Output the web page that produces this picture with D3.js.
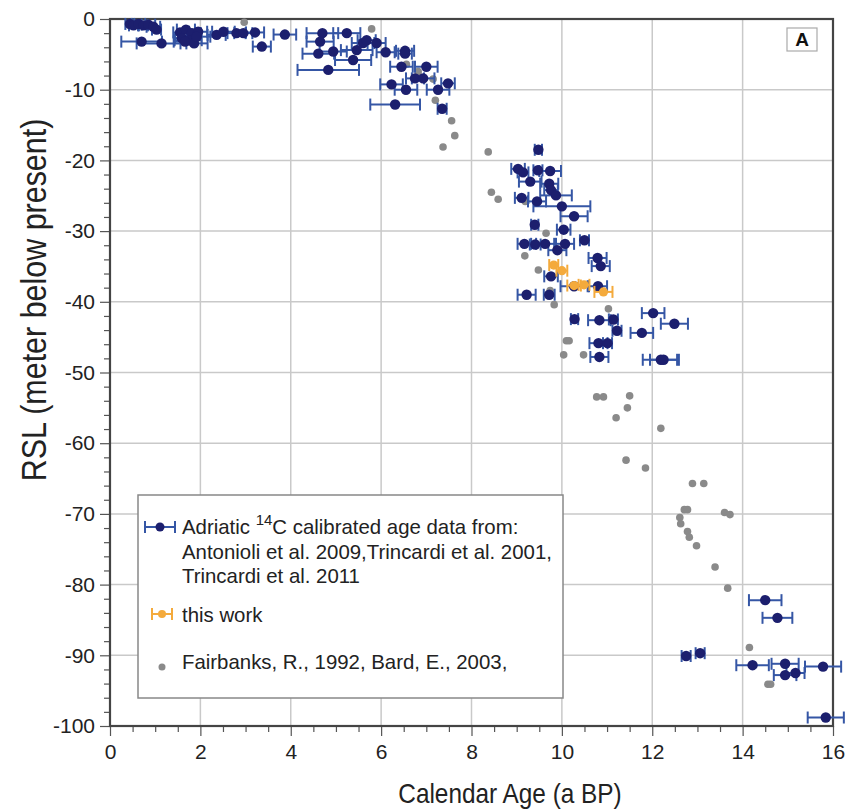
<!DOCTYPE html>
<html><head><meta charset="utf-8">
<script src="https://cdn.jsdelivr.net/npm/d3@7"></script>
<style>html,body{margin:0;padding:0;background:#fff;}svg{display:block;font-family:"Liberation Sans",Arial,Helvetica,sans-serif;}</style>
</head><body>
<svg id="chart" width="849" height="809"></svg>
<script>
// Adriatic 14C calibrated data: age (ka BP), RSL (m), age error (half width)
const adriaticAge = [0.44,0.52,0.63,0.74,0.85,0.96,1.03,0.70,1.14,1.55,1.68,1.81,1.95,1.59,1.73,1.86,1.92,1.66,2.36,2.51,2.8,2.95,3.21,3.36,3.87,4.7,5.24,4.65,4.61,4.94,5.38,5.46,5.6,5.68,5.9,4.83,6.1,6.53,6.53,6.45,6.75,7.0,6.93,6.23,6.55,7.26,7.48,6.31,7.35,
  9.48,9.03,9.14,9.47,9.74,9.30,9.72,9.76,9.87,9.11,9.45,10.0,10.27,9.40,10.04,9.17,9.41,9.63,10.07,10.5,9.9,10.79,10.86,9.76,10.27,10.80,9.22,9.72,10.28,10.83,11.14,11.22,12.02,12.49,11.77,10.81,11.01,10.83,12.19,12.25,
  14.5,14.77,12.75,13.06,14.22,14.94,14.94,15.17,15.78,15.84];
const adriaticRSL = [-0.7,-0.9,-0.7,-0.9,-0.8,-1.1,-1.5,-3.2,-3.45,-1.9,-1.5,-2.0,-1.8,-2.7,-3.0,-3.45,-2.5,-3.2,-2.25,-1.8,-2.0,-2.0,-1.9,-3.9,-2.2,-2.0,-2.0,-3.2,-4.9,-4.6,-5.8,-4.4,-3.4,-3.0,-3.4,-7.2,-4.7,-4.5,-4.9,-6.75,-8.4,-6.75,-8.4,-9.25,-10.0,-10.0,-9.1,-12.1,-12.7,
  -18.5,-21.2,-21.7,-21.4,-21.5,-23.0,-23.3,-24.2,-24.95,-25.3,-25.8,-26.5,-27.9,-29.1,-29.8,-31.8,-31.9,-31.8,-31.8,-31.3,-32.7,-33.8,-34.95,-36.4,-37.8,-37.8,-39.0,-39.0,-42.45,-42.6,-42.5,-44.1,-41.6,-43.1,-44.4,-45.85,-45.85,-47.8,-48.2,-48.2,
  -82.2,-84.7,-90.1,-89.7,-91.4,-91.2,-92.8,-92.5,-91.6,-98.8];
const adriaticErr = [0.1,0.1,0.15,0.1,0.15,0.15,0.1,0.45,0.55,0.15,0.2,0.2,0.2,0.15,0.3,0.3,0.3,0.25,0.2,0.25,0.2,0.2,0.2,0.2,0.25,0.35,0.3,0.3,0.35,0.3,0.4,0.35,0.25,0.2,0.2,0.68,0.2,0.2,0.15,0.25,0.2,0.25,0.25,0.25,0.25,0.25,0.15,0.55,0.1,
  0.08,0.15,0.12,0.1,0.24,0.25,0.2,0.15,0.35,0.15,0.2,0.63,0.3,0.08,0.15,0.15,0.12,0.2,0.2,0.1,0.2,0.2,0.2,0.15,0.3,0.2,0.2,0.12,0.08,0.25,0.1,0.1,0.25,0.3,0.25,0.2,0.1,0.2,0.4,0.3,
  0.36,0.33,0.1,0.1,0.36,0.3,0.25,0.2,0.4,0.4];
// this work
const thisAge = [9.82,10.0,10.27,10.49,10.92];
const thisRSL = [-34.8,-35.6,-37.7,-37.6,-38.6];
const thisErr = [0.1,0.12,0.15,0.12,0.2];
// Fairbanks 1992, Bard 2003
const fbAge = [2.97,5.79,6.56,6.82,7.15,7.2,7.56,7.63,7.37,8.37,8.44,8.59,9.19,9.65,9.18,9.48,9.74,9.83,11.03,10.1,10.16,10.04,10.48,10.77,10.92,11.5,11.45,11.2,12.19,11.42,11.85,12.89,13.14,12.71,12.78,12.61,12.63,12.78,12.82,12.98,13.6,13.72,13.39,13.67,14.15,14.56,14.62];
const fbRSL = [-0.47,-1.4,-6.4,-7.45,-8.5,-11.5,-14.4,-16.5,-18.1,-18.8,-24.5,-25.5,-25.8,-30.3,-33.5,-35.5,-38.4,-40.4,-41.0,-45.5,-45.5,-47.5,-47.5,-53.45,-53.45,-53.3,-55.0,-56.4,-57.9,-62.4,-63.5,-65.7,-65.7,-69.4,-69.4,-70.5,-71.4,-72.5,-73.3,-74.5,-69.8,-70.1,-77.5,-80.5,-88.9,-94.1,-94.1];
const xTicks = [0,2,4,6,8,10,12,14,16];
const yTicks = [0,-10,-20,-30,-40,-50,-60,-70,-80,-90,-100];

const svg = d3.select("#chart");
const L = 110, T = 19, R = 833, B = 726;
const x = d3.scaleLinear().domain([0,16]).range([L,R]);
const y = d3.scaleLinear().domain([0,-100]).range([T,B]);
const blueDot = "#1c1f6e", blueBar = "#3556a5", orange = "#f4aa3c", grey = "#8a8a8a";

// grid
const g = svg.append("g");
g.selectAll(".vg").data(xTicks.slice(1,-1)).join("line")
  .attr("x1",d=>x(d)).attr("x2",d=>x(d)).attr("y1",T).attr("y2",B)
  .attr("stroke","#c9c9c9").attr("stroke-width",1.5);
g.selectAll(".hg").data(yTicks.slice(1,-1)).join("line")
  .attr("y1",d=>y(d)).attr("y2",d=>y(d)).attr("x1",L).attr("x2",R)
  .attr("stroke","#c9c9c9").attr("stroke-width",1.5);

// axes
const yAxis = d3.axisLeft(y).tickValues(d3.range(0,-101,-2)).tickSize(7).tickFormat(d=> d%10===0 ? d3.format("d")(d).replace("−","-") : "");
const ya = svg.append("g").attr("transform",`translate(${L},0)`).call(yAxis);
ya.select(".domain").remove();
ya.selectAll(".tick line").attr("stroke","#555").attr("stroke-width",1.2).attr("x2",d=>d%10===0?-10:-6);
ya.selectAll(".tick text").attr("x",-15).attr("font-size",21).attr("fill","#222").attr("font-family","Liberation Sans, Arial, sans-serif");

const xAxis = d3.axisBottom(x).tickValues(d3.range(0,16.01,0.5)).tickSize(7).tickFormat(d=> d%2===0 ? d : "");
const xa = svg.append("g").attr("transform",`translate(0,${B})`).call(xAxis);
xa.select(".domain").remove();
xa.selectAll(".tick line").attr("stroke","#555").attr("stroke-width",1.2).attr("y2",d=>d%2===0?10:6);
xa.selectAll(".tick text").attr("y",18).attr("font-size",21).attr("fill","#222").attr("font-family","Liberation Sans, Arial, sans-serif");

// frame
svg.append("rect").attr("x",L).attr("y",T).attr("width",R-L).attr("height",B-T)
  .attr("fill","none").attr("stroke","#444").attr("stroke-width",2.2);

// error bars helper
function errBars(sel, ages, rsl, err, color, cap) {
  const d = ages.map((a,i)=>({a, r: rsl[i], e: err[i]}));
  const gg = sel.append("g").attr("stroke",color).attr("stroke-width",2);
  gg.selectAll(".h").data(d).join("line")
    .attr("x1",p=>x(p.a-p.e)).attr("x2",p=>x(p.a+p.e)).attr("y1",p=>y(p.r)).attr("y2",p=>y(p.r));
  gg.selectAll(".cl").data(d).join("line")
    .attr("x1",p=>x(p.a-p.e)).attr("x2",p=>x(p.a-p.e)).attr("y1",p=>y(p.r)-cap).attr("y2",p=>y(p.r)+cap);
  gg.selectAll(".cr").data(d).join("line")
    .attr("x1",p=>x(p.a+p.e)).attr("x2",p=>x(p.a+p.e)).attr("y1",p=>y(p.r)-cap).attr("y2",p=>y(p.r)+cap);
  return d;
}

const plot = svg.append("g");
// grey points
plot.selectAll(".fb").data(fbAge.map((a,i)=>[a,fbRSL[i]])).join("circle")
  .attr("cx",d=>x(d[0])).attr("cy",d=>y(d[1])).attr("r",3.8).attr("fill",grey);
// blue
const bd = errBars(plot, adriaticAge, adriaticRSL, adriaticErr, blueBar, 6);
plot.selectAll(".bd").data(bd).join("circle")
  .attr("cx",p=>x(p.a)).attr("cy",p=>y(p.r)).attr("r",5.2).attr("fill",blueDot);
// orange
const od = errBars(plot, thisAge, thisRSL, thisErr, orange, 6);
plot.selectAll(".od").data(od).join("circle")
  .attr("cx",p=>x(p.a)).attr("cy",p=>y(p.r)).attr("r",4.6).attr("fill",orange);

// "A" label box
svg.append("rect").attr("x",787).attr("y",28).attr("width",30).attr("height",23)
  .attr("fill","#fff").attr("stroke","#aaa").attr("stroke-width",1.2);
svg.append("text").attr("x",802).attr("y",46).attr("text-anchor","middle")
  .attr("font-size",19).attr("font-weight","bold").attr("fill","#111").text("A");

// legend
const lg = svg.append("g");
lg.append("rect").attr("x",138).attr("y",495).attr("width",425).attr("height",203)
  .attr("fill","#fff").attr("stroke","#888").attr("stroke-width",1.5);
function legErr(cx, cy, hw, color, r) {
  lg.append("line").attr("x1",cx-hw).attr("x2",cx+hw).attr("y1",cy).attr("y2",cy).attr("stroke",color).attr("stroke-width",2);
  lg.append("line").attr("x1",cx-hw).attr("x2",cx-hw).attr("y1",cy-6).attr("y2",cy+6).attr("stroke",color).attr("stroke-width",2);
  lg.append("line").attr("x1",cx+hw).attr("x2",cx+hw).attr("y1",cy-6).attr("y2",cy+6).attr("stroke",color).attr("stroke-width",2);
  lg.append("circle").attr("cx",cx).attr("cy",cy).attr("r",r).attr("fill",color===blueBar?blueDot:color);
}
legErr(160, 527, 15, blueBar, 4.5);
legErr(162, 614, 10, orange, 4);
lg.append("circle").attr("cx",162).attr("cy",667).attr("r",3.5).attr("fill",grey);
const lt = lg.append("g").attr("font-size",20.4).attr("fill","#222");
const t1 = lt.append("text").attr("x",182).attr("y",534);
t1.append("tspan").text("Adriatic ");
t1.append("tspan").attr("font-size",15).attr("dy",-9).text("14");
t1.append("tspan").attr("dy",9).text("C calibrated age data from:");
lt.append("text").attr("x",182).attr("y",559).text("Antonioli et al. 2009,Trincardi et al. 2001,");
lt.append("text").attr("x",182).attr("y",583).text("Trincardi et al. 2011");
lt.append("text").attr("x",182).attr("y",622).text("this work");
lt.append("text").attr("x",182).attr("y",669).text("Fairbanks, R., 1992, Bard, E., 2003,");

// axis titles
svg.append("text").attr("transform","translate(510,803) scale(0.87,1)").attr("text-anchor","middle")
  .attr("font-size",28).attr("fill","#222").text("Calendar Age (a BP)");
svg.append("text").attr("transform","translate(46,300) rotate(-90) scale(0.87,1)").attr("text-anchor","middle")
  .attr("font-size",35).attr("fill","#222").text("RSL (meter below present)");
</script>
</body></html>
